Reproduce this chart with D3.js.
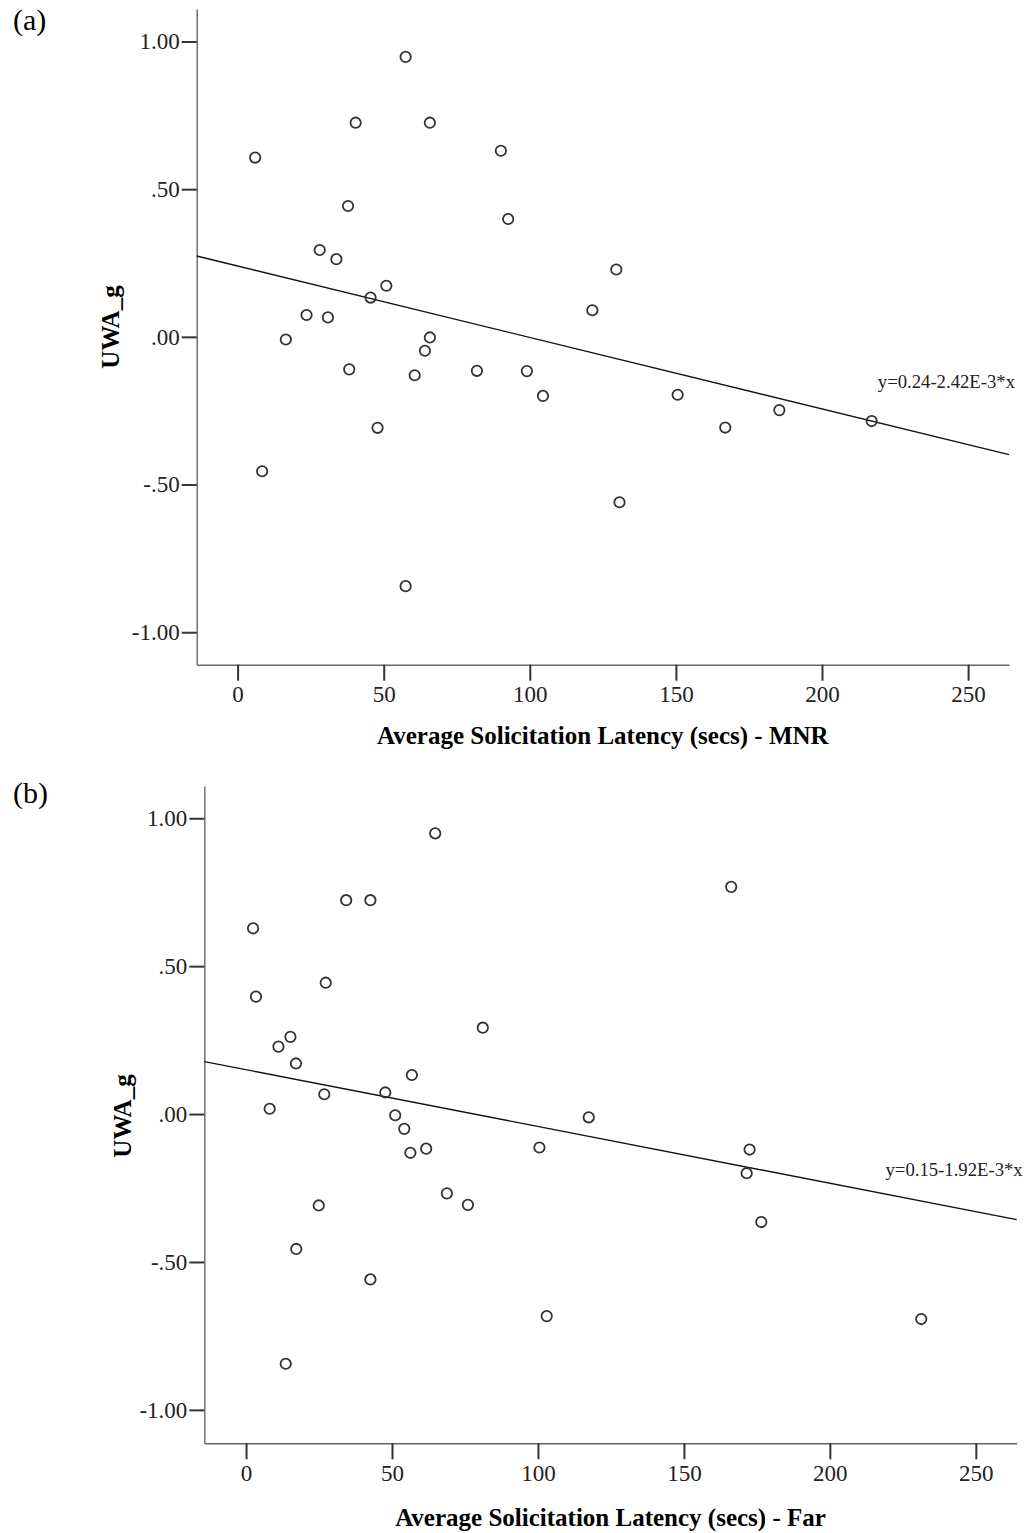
<!DOCTYPE html>
<html>
<head>
<meta charset="utf-8">
<script src="https://cdn.jsdelivr.net/npm/d3@7"></script>
<style>
    body { margin: 0; background: #fff; }
    svg { display: block; font-family: "Liberation Serif", "Times New Roman", serif; }
</style>
</head>
<body>
<svg id="chart" width="1034" height="1533"></svg>
<script>
// Panel (a): MNR
const latencyMNR = [57.5, 40.4, 65.8, 6.0, 90.1, 37.8, 92.6, 28.1, 33.8, 50.9, 45.5, 23.6, 30.9, 16.5, 65.8, 64.1,
    38.2, 60.6, 81.9, 129.6, 121.4, 99.0, 47.9, 8.4, 57.5, 104.5, 150.6, 166.9, 185.4, 217.0, 130.7];
const uwaMNR = [0.948, 0.725, 0.725, 0.607, 0.630, 0.443, 0.399, 0.294, 0.263, 0.173, 0.133, 0.074, 0.066, -0.009, -0.002, -0.047,
    -0.110, -0.130, -0.115, 0.228, 0.090, -0.116, -0.308, -0.455, -0.844, -0.200, -0.196, -0.307, -0.248, -0.285, -0.560];

// Panel (b): Far
const latencyFar = [64.8, 34.3, 42.6, 2.4, 27.3, 3.4, 81.1, 15.2, 11.1, 17.1, 56.8, 47.7, 26.8, 8.1, 51.1, 54.2,
    56.3, 61.7, 166.2, 117.4, 100.5, 172.5, 68.8, 76.0, 24.9, 17.2, 42.6, 13.6, 171.5, 176.5, 103.0, 231.3];
const uwaFar = [0.949, 0.723, 0.723, 0.628, 0.444, 0.397, 0.292, 0.261, 0.228, 0.171, 0.132, 0.073, 0.067, 0.018, -0.004, -0.050,
    -0.131, -0.117, 0.768, -0.011, -0.113, -0.120, -0.268, -0.307, -0.309, -0.456, -0.559, -0.844, -0.200, -0.365, -0.683, -0.693];

// fit lines (from the chart annotations)
const fitMNR = { intercept: 0.24, slope: -2.42e-3, label: "y=0.24-2.42E-3*x" };
const fitFar = { intercept: 0.15, slope: -1.92e-3, label: "y=0.15-1.92E-3*x" };

const xTicks = [0, 50, 100, 150, 200, 250];
const yTicks = [1.0, 0.5, 0.0, -0.5, -1.0];
const xTitles = ["Average Solicitation Latency (secs) - MNR", "Average Solicitation Latency (secs) - Far"];
const yTitle = "UWA_g";
const panelLabels = ["(a)", "(b)"];

const svg = d3.select("#chart");

// SPSS style: 1.00, .50, .00, -.50 (plain hyphen)
const fmtY = d => d3.format(".2f")(d).replace("\u2212", "-").replace(/^(-?)0\./, "$1.");

const panels = [
    { xs: latencyMNR, ys: uwaMNR, fit: fitMNR, xDomain: [-14, 264], yDomain: [-1.11, 1.11],
      xRange: [196.7, 1009], yRange: [664.7, 9], labelY: 30, yTitleX: 119, yTitleY: 327, xTitleY: 744, eqY: 388 },
    { xs: latencyFar, ys: uwaFar, fit: fitFar, xDomain: [-14.3, 264], yDomain: [-1.113, 1.109],
      xRange: [204.3, 1016.7], yRange: [1443.3, 786], labelY: 803, yTitleX: 131, yTitleY: 1116, xTitleY: 1526, eqY: 1176 }
];

panels.forEach((p, i) => {
    const g = svg.append("g");

    const x = d3.scaleLinear().domain(p.xDomain).range(p.xRange);
    const y = d3.scaleLinear().domain(p.yDomain).range(p.yRange);

    // axes
    const yAxis = g.append("g")
        .attr("transform", `translate(${p.xRange[0]},0)`)
        .call(d3.axisLeft(y).tickValues(yTicks).tickFormat(fmtY).tickSize(15).tickPadding(2).tickSizeOuter(0));

    const xAxis = g.append("g")
        .attr("transform", `translate(0,${p.yRange[0]})`)
        .call(d3.axisBottom(x).tickValues(xTicks).tickSize(16).tickPadding(5).tickSizeOuter(0));

    [yAxis, xAxis].forEach(a => {
        a.select(".domain").attr("stroke", "#666").attr("stroke-width", 1.4);
        a.selectAll(".tick line").attr("stroke", "#333").attr("stroke-width", 2);
        a.selectAll(".tick text")
            .attr("fill", "#222")
            .style("font-family", "Liberation Serif")
            .style("font-size", "23px");
    });

    // fit line
    const line = d3.line()
        .x(d => x(d))
        .y(d => y(p.fit.intercept + p.fit.slope * d));

    g.append("path")
        .datum(p.xDomain)
        .attr("fill", "none")
        .attr("stroke", "#111")
        .attr("stroke-width", 1.4)
        .attr("d", line);

    // points
    g.selectAll("circle")
        .data(p.xs.map((v, k) => [v, p.ys[k]]))
        .enter()
        .append("circle")
        .attr("cx", d => x(d[0]))
        .attr("cy", d => y(d[1]))
        .attr("r", 5.2)
        .attr("fill", "none")
        .attr("stroke", "#333")
        .attr("stroke-width", 1.8);

    // equation
    g.append("text")
        .attr("x", p.xRange[1] + 6)
        .attr("y", p.eqY)
        .attr("text-anchor", "end")
        .attr("fill", "#222")
        .style("font-size", "18.7px")
        .text(p.fit.label);

    // titles
    g.append("text")
        .attr("x", (p.xRange[0] + p.xRange[1]) / 2)
        .attr("y", p.xTitleY)
        .attr("text-anchor", "middle")
        .attr("font-weight", "bold")
        .style("font-size", "25px")
        .text(xTitles[i]);

    g.append("text")
        .attr("transform", `translate(${p.yTitleX},${p.yTitleY}) rotate(-90)`)
        .attr("text-anchor", "middle")
        .attr("font-weight", "bold")
        .style("font-size", "25px")
        .text(yTitle);

    g.append("text")
        .attr("x", 13)
        .attr("y", p.labelY)
        .style("font-size", "30px")
        .text(panelLabels[i]);
});
</script>
</body>
</html>
